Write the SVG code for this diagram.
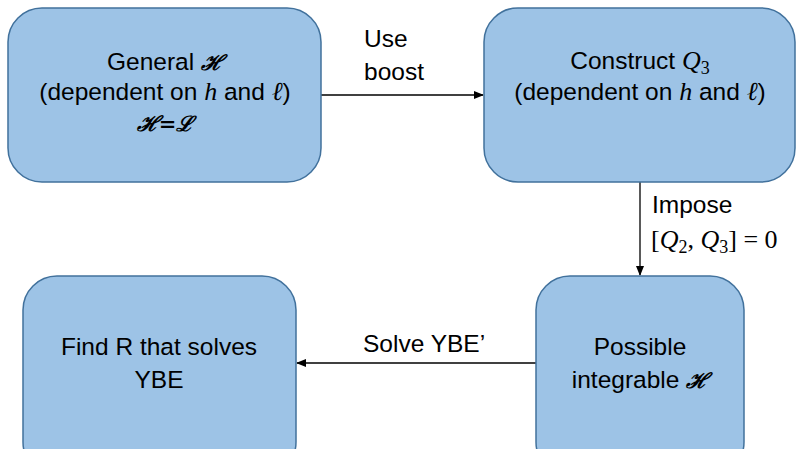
<svg xmlns="http://www.w3.org/2000/svg" width="796" height="449" viewBox="0 0 796 449">
<defs>
<style>
.box{fill:#9DC3E6;stroke:#41719C;stroke-width:1.5}
text{font-family:"Liberation Sans","Open Sans",sans-serif;font-size:24.5px;fill:#000}
.c{text-anchor:middle}
.m{font-family:"Liberation Serif","DejaVu Serif",serif;font-style:italic;font-size:26px}
.mr{font-family:"Liberation Serif","DejaVu Serif",serif;font-size:26px}
.s{font-family:"DejaVu Serif",serif;font-style:italic;font-weight:bold;font-size:21px}
.sub{font-family:"Liberation Serif",serif;font-size:18px}
.line{stroke:#000;stroke-width:1.3;fill:none;marker-end:url(#ah)}
</style>
<marker id="ah" markerWidth="10" markerHeight="8" refX="9" refY="4" orient="auto" markerUnits="userSpaceOnUse">
<path d="M0,0 L10,4 L0,8 z" fill="#000"/>
</marker>
</defs>
<g id="connectors">
<line class="line" x1="321" y1="95" x2="483" y2="95"/>
<line class="line" x1="640" y1="182" x2="640" y2="275"/>
<line class="line" x1="536" y1="363" x2="297" y2="363"/>
<text x="364" y="47">Use</text>
<text x="364" y="80">boost</text>
<text x="652" y="213">Impose</text>
<text x="651" y="248"><tspan class="mr">[</tspan><tspan class="m">Q</tspan><tspan class="sub" dy="5">2</tspan><tspan class="mr" dy="-5">, </tspan><tspan class="m">Q</tspan><tspan class="sub" dy="5">3</tspan><tspan class="mr" dy="-5">]  =  0</tspan></text>
<text x="363" y="352">Solve YBE’</text>
</g>
<g id="node-general">
<rect class="box" x="8" y="8" width="313" height="174" rx="34"/>
<text class="c" x="165" y="70">General <tspan class="s">ℋ</tspan></text>
<text class="c" x="165" y="100">(dependent on <tspan class="m">h</tspan> and <tspan class="m">ℓ</tspan>)</text>
<text class="c" x="165" y="131"><tspan class="s">ℋ</tspan><tspan class="s">=</tspan><tspan class="s">ℒ</tspan></text>
</g>
<g id="node-construct">
<rect class="box" x="484" y="8" width="311" height="174" rx="34"/>
<text class="c" x="640" y="69">Construct <tspan class="m">Q</tspan><tspan class="sub" dy="5">3</tspan></text>
<text class="c" x="640" y="100">(dependent on <tspan class="m">h</tspan> and <tspan class="m">ℓ</tspan>)</text>
</g>
<g id="node-possible">
<rect class="box" x="536" y="276" width="208" height="200" rx="34"/>
<text class="c" x="640" y="355">Possible</text>
<text class="c" x="640" y="388">integrable <tspan class="s">ℋ</tspan></text>
</g>
<g id="node-findr">
<rect class="box" x="23" y="276" width="273" height="200" rx="34"/>
<text class="c" x="159" y="355">Find R that solves</text>
<text class="c" x="159" y="388">YBE</text>
</g>
</svg>
